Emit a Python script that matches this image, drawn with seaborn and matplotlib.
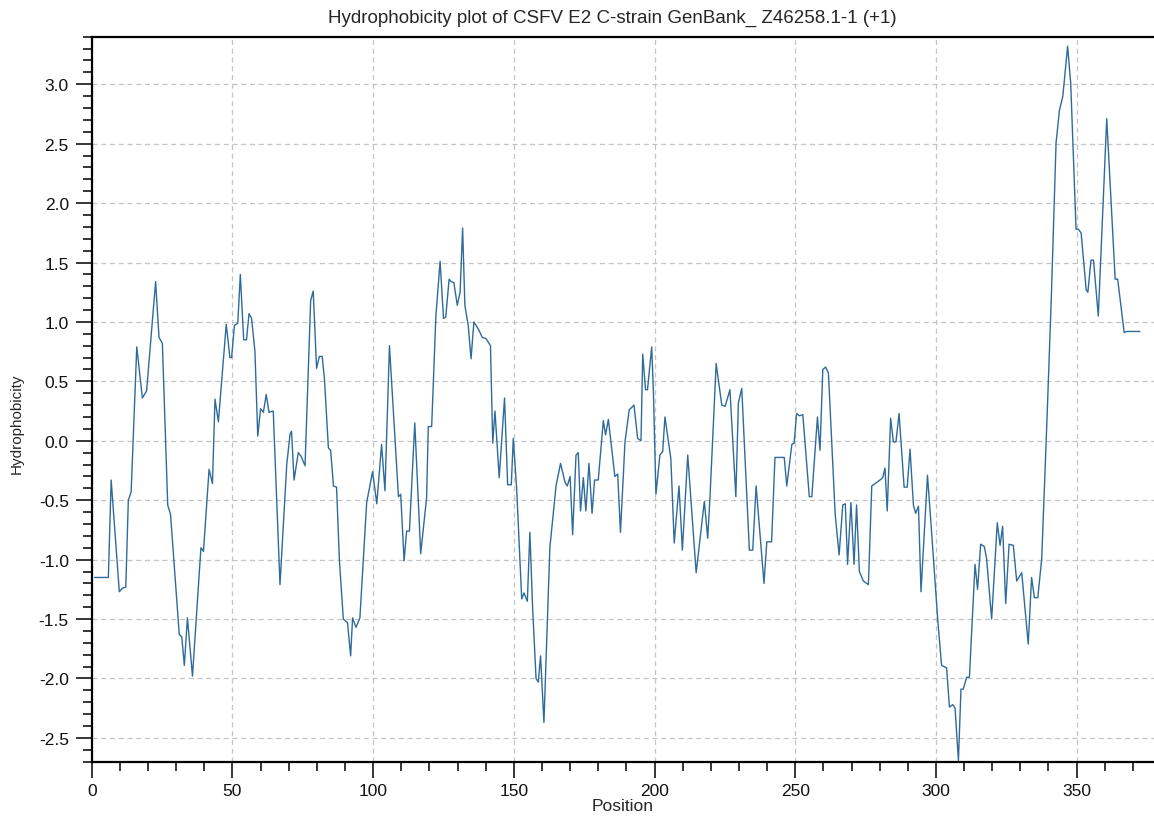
import numpy as np
import pandas as pd
import matplotlib
matplotlib.use("Agg")
import matplotlib.pyplot as plt
import seaborn as sns
from matplotlib.ticker import MultipleLocator, FormatStrFormatter

# positions along the protein and hydrophobicity
position = [
    1, 5.9, 6.9, 9.8, 10.9, 12.1, 13, 14, 16, 18, 19.5, 22.7, 23.9, 25.1, 27, 28,
    31.1, 32, 32.9, 34, 35.8, 38.8, 39.7, 41.7, 42.9, 43.8, 45, 47.8, 49.1, 49.7,
    50.7, 51.9, 52.8, 54, 55, 55.9, 56.8, 58, 59, 60, 61, 62, 63, 64.5, 66.9,
    69.3, 70.5, 71.0, 71.9, 73.4, 74.4, 75.8, 77.8, 78.7, 79.9, 80.9, 81.9, 82.7,
    84.1, 84.9, 85.9, 87.0, 88.0, 89.4, 90.9, 92.0, 92.7, 93.9, 95.3, 96.5, 97.7,
    99.8, 101.3, 103, 104.2, 105.8, 109, 109.8, 111, 111.9, 112.9, 114.8, 116.9,
    119, 119.6, 120.8, 122.3, 123.8, 125, 125.8, 127, 127.7, 128.7, 129.9, 130.9,
    131.8, 132.6, 133.8, 134.8, 135.8, 137.4, 138.8, 140.1, 141.7, 142.5, 143.3,
    144.8, 146.7, 147.8, 149.1, 149.8, 151, 152.8, 153.6, 154.8, 155.7, 156.7,
    157.9, 158.7, 159.5, 160.7, 161.7, 162.8, 165, 166.6, 168.2, 169, 170, 170.9,
    172.1, 172.9, 173.7, 174.7, 175.6, 176.7, 177.8, 178.7, 180, 181.8, 182.6,
    183.6, 185.9, 186.9, 187.9, 189.5, 191, 192.7, 194, 195.2, 195.8, 196.8,
    197.5, 199, 199.6, 200.5, 201.9, 202.9, 203.7, 205.8, 207, 208.7, 209.9,
    211.8, 214.8, 217.7, 218.9, 219.7, 221.9, 223.9, 225.1, 226.8, 228.9, 229.8,
    231, 233.7, 234.9, 236.1, 238.9, 239.9, 241.6, 242.8, 246.1, 247, 248.8,
    249.6, 250.5, 251.5, 252.7, 255, 255.9, 257.9, 258.8, 259.8, 260.8, 261.8,
    264.2, 265.6, 266.9, 267.8, 268.6, 269.8, 270.9, 271.8, 272.8, 274.2, 276,
    277.2, 278.4, 280.1, 281.1, 281.9, 282.7, 283.9, 284.9, 285.8, 286.9, 288.7,
    289.8, 290.8, 292, 292.8, 293.8, 294.7, 297, 298.2, 300.6, 302, 303.8, 304.8,
    306, 306.8, 308, 308.9, 309.7, 310.9, 311.9, 313.9, 314.8, 315.9, 317.2, 318,
    319.8, 321.8, 322.8, 323.7, 324.8, 326, 327.5, 328.7, 330.5, 332.8, 334, 335,
    336.2, 337.6, 339.5, 341, 342.7, 343.9, 345.1, 346.8, 347.9, 349.8, 350.6,
    351.6, 353.4, 354, 355.1, 356, 357.7, 360.7, 363.7, 364.6, 366.9, 367.8, 372.5,
]
hydrophobicity = [
    -1.15, -1.15, -0.33, -1.27, -1.24, -1.23, -0.50, -0.43, 0.79, 0.36, 0.42, 1.34,
    0.87, 0.82, -0.54, -0.62, -1.63, -1.65, -1.89, -1.49, -1.98, -0.90, -0.93,
    -0.24, -0.36, 0.35, 0.16, 0.98, 0.70, 0.70, 0.97, 0.99, 1.40, 0.85, 0.85, 1.07,
    1.03, 0.75, 0.04, 0.27, 0.24, 0.39, 0.24, 0.25, -1.21,
    -0.20, 0.06, 0.08, -0.33, -0.10, -0.13, -0.21, 1.18, 1.26, 0.61, 0.71, 0.71,
    0.52, -0.06, -0.08, -0.38, -0.39, -1.00, -1.50, -1.53, -1.81, -1.49, -1.57,
    -1.49, -1.00, -0.52, -0.26, -0.53, -0.03, -0.42, 0.80, -0.47, -0.45, -1.01,
    -0.76, -0.76, 0.15, -0.95, -0.48, 0.12, 0.12, 1.05, 1.51, 1.03, 1.04, 1.36,
    1.34, 1.33, 1.14, 1.25, 1.79, 1.14, 0.97, 0.69, 1.00, 0.94, 0.87, 0.86, 0.80,
    -0.02, 0.25, -0.31, 0.36, -0.37, -0.37, 0.02, -0.40, -1.33, -1.28, -1.35,
    -0.77, -1.42, -2.00, -2.03, -1.81, -2.37, -1.67, -0.90, -0.38, -0.19, -0.35,
    -0.38, -0.30, -0.79, -0.12, -0.10, -0.59, -0.31, -0.59, -0.19, -0.61, -0.33,
    -0.33, 0.17, 0.05, 0.18, -0.30, -0.28, -0.77, -0.01, 0.26, 0.30, 0.02, 0.00,
    0.73, 0.43, 0.43, 0.79, 0.41, -0.45, -0.12, -0.09, 0.20, -0.15, -0.86, -0.38,
    -0.92, -0.12, -1.11, -0.51, -0.82, -0.48, 0.65, 0.30, 0.29, 0.43, -0.47, 0.32,
    0.44, -0.92, -0.92, -0.38, -1.20, -0.85, -0.85, -0.14, -0.14, -0.38, -0.03,
    -0.02, 0.23, 0.21, 0.22, -0.47, -0.47, 0.20, -0.08, 0.60, 0.62, 0.57, -0.62,
    -0.96, -0.54, -0.53, -1.04, -0.52, -1.04, -0.54, -1.10, -1.18, -1.21, -0.38,
    -0.36, -0.33, -0.31, -0.23, -0.59, 0.19, -0.01, -0.01, 0.23, -0.39, -0.39,
    -0.07, -0.54, -0.61, -0.55, -1.27, -0.29, -0.68, -1.49, -1.89, -1.91, -2.24,
    -2.22, -2.25, -2.69, -2.09, -2.09, -1.99, -1.99, -1.04, -1.25, -0.87, -0.89,
    -0.99, -1.50, -0.69, -0.88, -0.72, -1.37, -0.87, -0.88, -1.18, -1.11, -1.71,
    -1.15, -1.32, -1.32, -0.99, 0.20, 1.20, 2.51, 2.78, 2.90, 3.32, 3.01, 1.78,
    1.78, 1.75, 1.27, 1.25, 1.52, 1.52, 1.05, 2.71, 1.36, 1.36, 0.91, 0.92, 0.92,
]

df = pd.DataFrame({"Position": position, "Hydrophobicity": hydrophobicity})

sns.set_theme(style="white")
plt.rcParams["font.family"] = ["Liberation Sans", "DejaVu Sans"]
plt.rcParams["axes.unicode_minus"] = False

fig = plt.figure(figsize=(11.54, 8.2), dpi=100)
ax = fig.add_axes([0.0795, 0.0699, 0.9205, 0.8841])

sns.lineplot(data=df, x="Position", y="Hydrophobicity", ax=ax, sort=False,
             estimator=None, color="#2f6b9a", linewidth=1.0)

ax.set_xlim(0, 377.5)
ax.set_ylim(-2.70, 3.40)
ax.xaxis.set_major_locator(MultipleLocator(50))
ax.xaxis.set_minor_locator(MultipleLocator(10))
ax.yaxis.set_major_locator(MultipleLocator(0.5))
ax.yaxis.set_minor_locator(MultipleLocator(0.1))
ax.yaxis.set_major_formatter(FormatStrFormatter("%.1f"))

ax.grid(True, which="major", color="#c4c4c4", linestyle=(0, (4, 3)), linewidth=0.9)
ax.tick_params(axis="both", which="major", direction="out", length=11.5, width=1.1,
               color="black", labelsize=12.5, labelcolor="#111111")
ax.tick_params(axis="both", which="minor", direction="out", length=6.5, width=1.1,
               color="black")
ax.tick_params(axis="x", which="major", pad=3.5)
ax.tick_params(axis="y", which="major", pad=5)
ax.tick_params(bottom=True, left=True, which="both")

for side in ["left", "bottom", "top"]:
    ax.spines[side].set_color("black")
    ax.spines[side].set_linewidth(1.6)
ax.spines["right"].set_visible(False)

ax.set_xlabel("Position", fontsize=12.5, labelpad=0)
ax.set_ylabel("Hydrophobicity", fontsize=11, labelpad=6)
ax.yaxis.set_label_coords(-0.064, 0.467)
ax.set_title("Hydrophobicity plot of CSFV E2 C-strain GenBank_ Z46258.1-1 (+1)",
             fontsize=13.5, pad=10.5, x=0.49)

fig.savefig("out.png", dpi=100)
